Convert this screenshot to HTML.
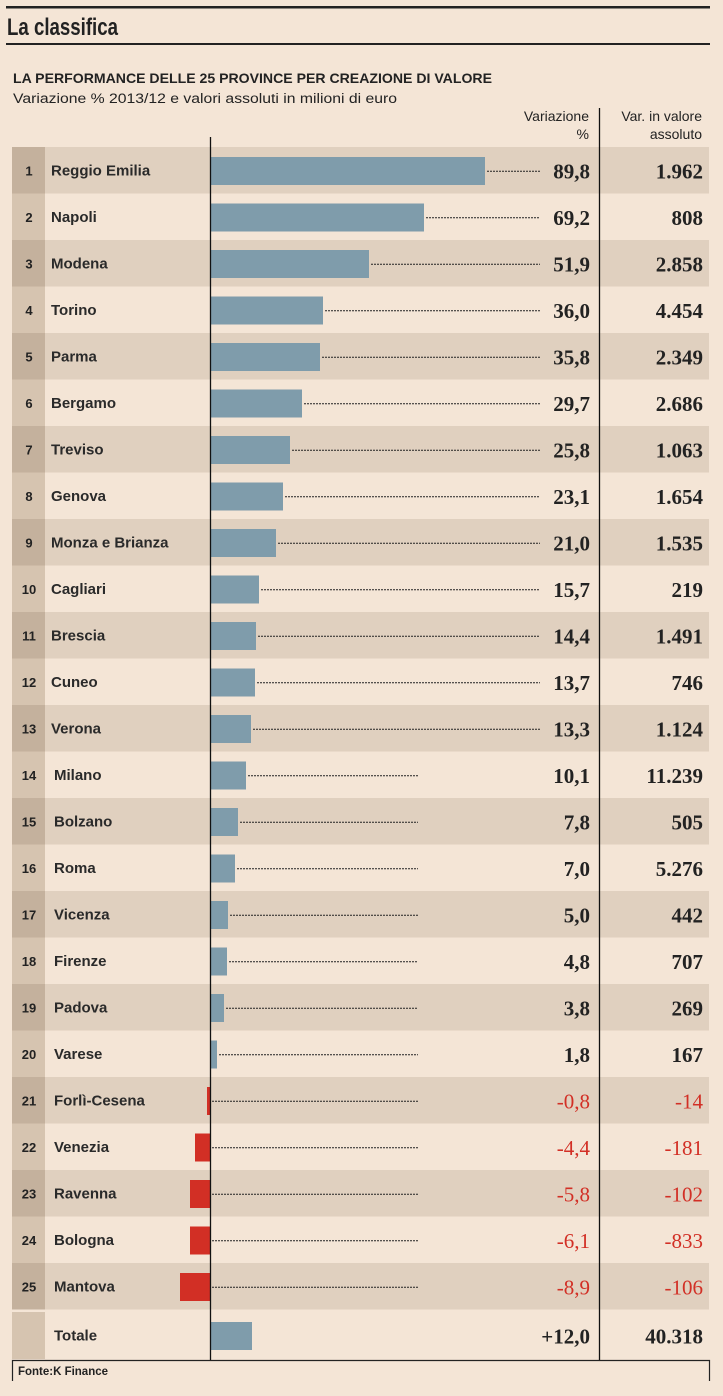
<!DOCTYPE html>
<html><head><meta charset="utf-8"><style>
body{margin:0;background:#f4e5d6;}
svg{display:block}
.nm{font-family:"Liberation Sans",sans-serif;font-size:15px;font-weight:bold;fill:#2a2a2a;}
.rk{font-family:"Liberation Sans",sans-serif;font-size:13px;font-weight:bold;fill:#222;}
.v{font-family:"Liberation Serif",serif;font-size:21px;font-weight:bold;fill:#222;}
.r{fill:#d22f25;font-weight:normal;}
</style></head><body>
<svg width="723" height="1396" viewBox="0 0 723 1396" xmlns="http://www.w3.org/2000/svg">
<rect width="723" height="1396" fill="#f4e5d6"/>
<rect x="6" y="6" width="704" height="2.5" fill="#222"/>
<rect x="6" y="43" width="704" height="2" fill="#222"/>
<text x="7" y="35" font-family="Liberation Sans,sans-serif" font-size="24" font-weight="bold" fill="#222" textLength="111" lengthAdjust="spacingAndGlyphs">La classifica</text>
<text x="13" y="83" font-family="Liberation Sans,sans-serif" font-size="14" font-weight="bold" fill="#222" textLength="479" lengthAdjust="spacingAndGlyphs">LA PERFORMANCE DELLE 25 PROVINCE PER CREAZIONE DI VALORE</text>
<text x="13" y="103" font-family="Liberation Sans,sans-serif" font-size="13.5" fill="#222" textLength="384" lengthAdjust="spacingAndGlyphs">Variazione % 2013/12  e valori assoluti in milioni di euro</text>
<g font-family="Liberation Sans,sans-serif" font-size="14" fill="#222" text-anchor="end">
<text x="589" y="121">Variazione</text><text x="589" y="139">%</text>
<text x="702" y="121">Var. in valore</text><text x="702" y="139">assoluto</text>
</g>
<g id="rows"></g>
<line x1="210.5" y1="137" x2="210.5" y2="1360" stroke="#111" stroke-width="1.3"/>
<line x1="599.5" y1="108" x2="599.5" y2="1360" stroke="#111" stroke-width="1.3"/>
<path d="M12.5 1381 V1360.5 H709.5 V1381" fill="none" stroke="#222" stroke-width="1.2"/>
<text x="18" y="1375" font-family="Liberation Sans,sans-serif" font-size="12" font-weight="bold" fill="#222" textLength="90" lengthAdjust="spacingAndGlyphs">Fonte:K Finance</text>
</svg>
<script>
var d=[["Reggio Emilia","89,8","1.962",485],["Napoli","69,2","808",424],["Modena","51,9","2.858",369],["Torino","36,0","4.454",323],["Parma","35,8","2.349",320],["Bergamo","29,7","2.686",302],["Treviso","25,8","1.063",290],["Genova","23,1","1.654",283],["Monza e Brianza","21,0","1.535",276],["Cagliari","15,7","219",259],["Brescia","14,4","1.491",256],["Cuneo","13,7","746",255],["Verona","13,3","1.124",251],["Milano","10,1","11.239",246],["Bolzano","7,8","505",238],["Roma","7,0","5.276",235],["Vicenza","5,0","442",228],["Firenze","4,8","707",227],["Padova","3,8","269",224],["Varese","1,8","167",217],["Forlì-Cesena","-0,8","-14",207],["Venezia","-4,4","-181",195],["Ravenna","-5,8","-102",190],["Bologna","-6,1","-833",190],["Mantova","-8,9","-106",180]];
var s="";
function row(i,top,h,name,rank,v1,v2,end,shade,tot){
 if(shade){s+='<rect x="12" y="'+top+'" width="697" height="'+h+'" fill="#e0d0bf"/>';}
 s+='<rect x="12" y="'+top+'" width="33" height="'+h+'" fill="'+(shade?'#c4b19d':'#d6c4b0')+'"/>';
 var b=top+h/2+5;
 if(rank)s+='<text class="rk" x="29" y="'+b+'" text-anchor="middle">'+rank+'</text>';
 s+='<text class="nm" x="'+(i<13?51:54)+'" y="'+b+'">'+name+'</text>';
 var neg=v1[0]=="-";
 var by=top+10;
 if(neg){s+='<rect x="'+end+'" y="'+by+'" width="'+(211-end)+'" height="28" fill="#d22f25"/>';}
 else{s+='<rect x="211" y="'+by+'" width="'+(end-211)+'" height="28" fill="#7f9cab"/>';}
 if(!tot){var le=i<13?540:418;var ls=neg?212:end+2;var ly=top+h/2+1;
 s+='<line x1="'+ls+'" y1="'+ly+'" x2="'+le+'" y2="'+ly+'" stroke="#222" stroke-width="1" stroke-dasharray="2,1"/>';}
 s+='<text class="v'+(neg?' r':'')+'" x="590" y="'+(b+3)+'" text-anchor="end">'+v1+'</text>';
 s+='<text class="v'+(neg?' r':'')+'" x="703" y="'+(b+3)+'" text-anchor="end">'+v2+'</text>';
}
for(var i=0;i<25;i++){var t=147+i*46.5;row(i,t,46.5,d[i][0],i+1,d[i][1],d[i][2],d[i][3],i%2==0,false);}
row(25,1312,47,"Totale","","+12,0","40.318",252,false,true);
document.getElementById("rows").innerHTML=s;
</script>
</body></html>
